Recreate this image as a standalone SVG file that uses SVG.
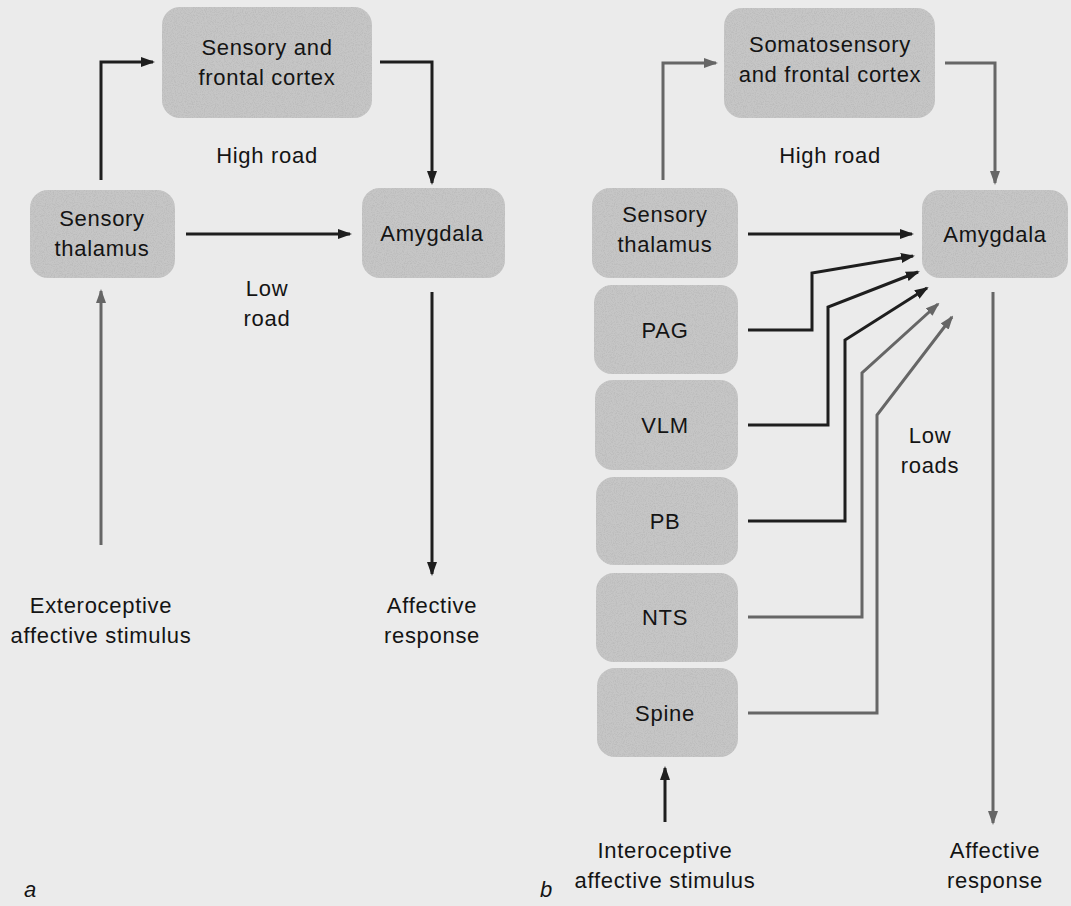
<svg xmlns="http://www.w3.org/2000/svg" width="1071" height="906" viewBox="0 0 1071 906">
<style>
text{font-family:"Liberation Sans",Arial,sans-serif;font-size:22px;letter-spacing:0.7px;fill:#141414;text-anchor:middle}
.box{fill:#c6c6c6}
.c{fill:none;stroke:#1e1e1e;stroke-width:3;marker-end:url(#ah)}
.g{stroke:#666}
.lbl{font-style:italic;text-anchor:start}
</style>
<defs>
<filter id="grain" x="0" y="0" width="100%" height="100%">
<feTurbulence type="fractalNoise" baseFrequency="0.9" numOctaves="2" seed="4" result="n"/>
<feColorMatrix in="n" type="matrix" values="0 0 0 0 0.5  0 0 0 0 0.5  0 0 0 0 0.5  0 0 0 3 -1.25" result="g"/>
<feComposite in="g" in2="SourceGraphic" operator="atop"/>
</filter>
<marker id="ah" viewBox="0 0 14 10" refX="12" refY="5" markerWidth="14" markerHeight="10" markerUnits="userSpaceOnUse" orient="auto">
<path d="M0,0 L14,5 L0,10 z" fill="#1e1e1e"/>
</marker>
<marker id="ahg" viewBox="0 0 14 10" refX="12" refY="5" markerWidth="14" markerHeight="10" markerUnits="userSpaceOnUse" orient="auto">
<path d="M0,0 L14,5 L0,10 z" fill="#666"/>
</marker>
</defs>
<rect width="1071" height="906" fill="#ebebeb"/>

<g id="connectors">
<path class="c" d="M101,180 V62 H153"/>
<path class="c" d="M380,62 H432 V183"/>
<path class="c" d="M186,234 H350"/>
<path class="c" d="M432,292 V574"/>
<path class="c g" style="marker-end:url(#ahg)" d="M101,545 V291"/>
<path class="c g" style="marker-end:url(#ahg)" d="M663,180 V63 H716"/>
<path class="c g" style="marker-end:url(#ahg)" d="M945,63 H995 V183"/>
<path class="c" d="M748,234 H912"/>
<path class="c" d="M748,330 H812 V273 L913,256"/>
<path class="c" d="M748,425 H828 V307 L918,272"/>
<path class="c" d="M748,521 H845 V340 L927,288"/>
<path class="c g" style="marker-end:url(#ahg)" d="M748,617 H862 V373 L938,304"/>
<path class="c g" style="marker-end:url(#ahg)" d="M748,713 H877 V415 L952,317"/>
<path class="c g" style="marker-end:url(#ahg)" d="M993,292 V823"/>
<path class="c" d="M665,822 V768"/>
</g>

<g id="a-cortex"><rect class="box" filter="url(#grain)" x="162" y="7" width="210" height="111" rx="18"/><text x="267" y="55">Sensory and</text><text x="267" y="85">frontal cortex</text></g>
<g id="a-thalamus"><rect class="box" filter="url(#grain)" x="30" y="190" width="145" height="88" rx="18"/><text x="102" y="226">Sensory</text><text x="102" y="256">thalamus</text></g>
<g id="a-amygdala"><rect class="box" filter="url(#grain)" x="362" y="188" width="143" height="90" rx="18"/><text x="432" y="241">Amygdala</text></g>
<g id="a-labels">
<text x="267" y="163">High road</text>
<text x="267" y="296">Low</text>
<text x="267" y="326">road</text>
<text x="101" y="613">Exteroceptive</text>
<text x="101" y="643">affective stimulus</text>
<text x="432" y="613">Affective</text>
<text x="432" y="643">response</text>
<text class="lbl" x="24" y="897">a</text>
</g>

<g id="b-cortex"><rect class="box" filter="url(#grain)" x="724" y="8" width="211" height="110" rx="18"/><text x="830" y="52">Somatosensory</text><text x="830" y="82">and frontal cortex</text></g>
<g id="b-thalamus"><rect class="box" filter="url(#grain)" x="592" y="188" width="146" height="90" rx="18"/><text x="665" y="222">Sensory</text><text x="665" y="252">thalamus</text></g>
<g id="b-pag"><rect class="box" filter="url(#grain)" x="594" y="285" width="144" height="89" rx="18"/><text x="665" y="338">PAG</text></g>
<g id="b-vlm"><rect class="box" filter="url(#grain)" x="595" y="380" width="143" height="90" rx="18"/><text x="665" y="433">VLM</text></g>
<g id="b-pb"><rect class="box" filter="url(#grain)" x="596" y="477" width="142" height="88" rx="18"/><text x="665" y="529">PB</text></g>
<g id="b-nts"><rect class="box" filter="url(#grain)" x="596" y="573" width="142" height="89" rx="18"/><text x="665" y="625">NTS</text></g>
<g id="b-spine"><rect class="box" filter="url(#grain)" x="597" y="668" width="141" height="89" rx="18"/><text x="665" y="721">Spine</text></g>
<g id="b-amygdala"><rect class="box" filter="url(#grain)" x="922" y="190" width="146" height="88" rx="18"/><text x="995" y="242">Amygdala</text></g>
<g id="b-labels">
<text x="830" y="163">High road</text>
<text x="930" y="443">Low</text>
<text x="930" y="473">roads</text>
<text x="665" y="858">Interoceptive</text>
<text x="665" y="888">affective stimulus</text>
<text x="995" y="858">Affective</text>
<text x="995" y="888">response</text>
<text class="lbl" x="540" y="897">b</text>
</g>
</svg>
